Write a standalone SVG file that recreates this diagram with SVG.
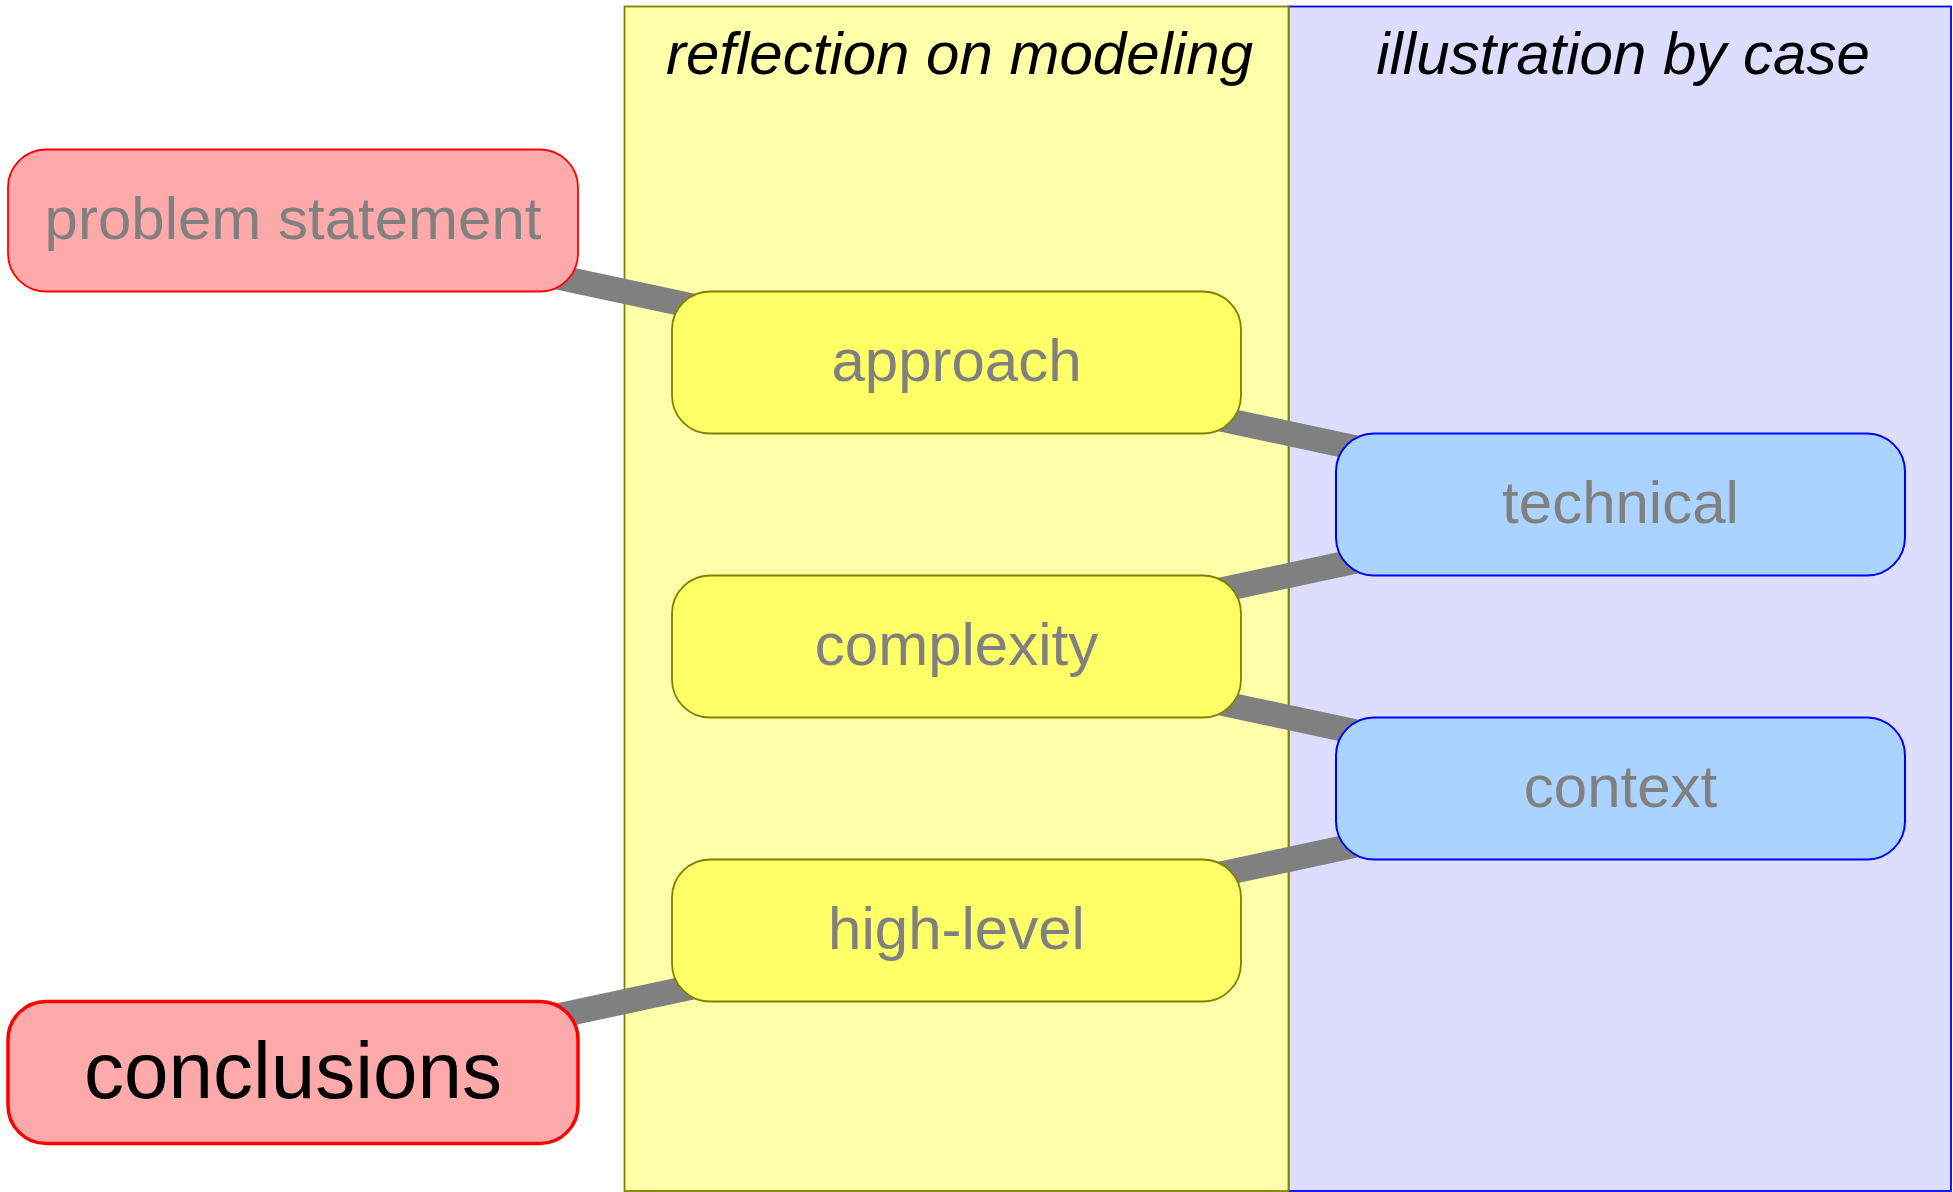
<svg xmlns="http://www.w3.org/2000/svg" width="1953" height="1192" viewBox="0 0 1953 1192">
  <style>
    .lane-case { fill: #ddddff; stroke: #0000ff; stroke-width: 1.8; }
    .lane-model { fill: #ffffaa; stroke: #808000; stroke-width: 1.8; }
    .lane-title { font-family: "Liberation Sans", Arial, sans-serif; font-size: 60px; font-style: italic; fill: #000000; text-anchor: middle; }
    .edge { stroke: #808080; stroke-width: 25; stroke-linecap: butt; fill: none; }
    .n-red { fill: #ffaaaa; stroke: #ff0000; stroke-width: 1.8; }
    .n-red-strong { fill: #ffaaaa; stroke: #ff0000; stroke-width: 3.5; }
    .n-yellow { fill: #ffff66; stroke: #808000; stroke-width: 1.8; }
    .n-blue { fill: #aad4ff; stroke: #0000ff; stroke-width: 2; }
    .label { font-family: "Liberation Sans", Arial, sans-serif; font-size: 60px; fill: #808080; text-anchor: middle; }
    .label-strong { font-family: "Liberation Sans", Arial, sans-serif; font-size: 80px; fill: #000000; text-anchor: middle; }
  </style>

  <rect width="1953" height="1192" fill="#ffffff"/>

  <!-- swimlanes -->
  <g id="lane-illustration">
    <rect class="lane-case" x="1288.5" y="6.5" width="662.5" height="1184.5"/>
    <text class="lane-title" x="1623" y="74">illustration by case</text>
  </g>
  <g id="lane-reflection">
    <rect class="lane-model" x="624.5" y="6.5" width="664" height="1184.5"/>
    <text class="lane-title" x="959.5" y="74">reflection on modeling</text>
  </g>

  <!-- connectors, centre to centre, drawn beneath the nodes -->
  <g id="connectors">
    <line class="edge" x1="293" y1="220.5" x2="956.5" y2="362.5"/>
    <line class="edge" x1="956.5" y1="362.5" x2="1620.5" y2="504.5"/>
    <line class="edge" x1="1620.5" y1="504.5" x2="956.5" y2="646.5"/>
    <line class="edge" x1="956.5" y1="646.5" x2="1620.5" y2="788.5"/>
    <line class="edge" x1="1620.5" y1="788.5" x2="956.5" y2="930.5"/>
    <line class="edge" x1="956.5" y1="930.5" x2="293" y2="1072.5"/>
  </g>

  <!-- nodes -->
  <g id="node-problem-statement">
    <rect class="n-red" x="8" y="149.5" width="570" height="142" rx="38" ry="38"/>
    <text class="label" x="293" y="239">problem statement</text>
  </g>
  <g id="node-approach">
    <rect class="n-yellow" x="672" y="291.5" width="569" height="142" rx="38" ry="38"/>
    <text class="label" x="956.5" y="381">approach</text>
  </g>
  <g id="node-technical">
    <rect class="n-blue" x="1336" y="433.5" width="569" height="142" rx="38" ry="38"/>
    <text class="label" x="1620.5" y="523">technical</text>
  </g>
  <g id="node-complexity">
    <rect class="n-yellow" x="672" y="575.5" width="569" height="142" rx="38" ry="38"/>
    <text class="label" x="956.5" y="665">complexity</text>
  </g>
  <g id="node-context">
    <rect class="n-blue" x="1336" y="717.5" width="569" height="142" rx="38" ry="38"/>
    <text class="label" x="1620.5" y="807">context</text>
  </g>
  <g id="node-high-level">
    <rect class="n-yellow" x="672" y="859.5" width="569" height="142" rx="38" ry="38"/>
    <text class="label" x="956.5" y="949">high-level</text>
  </g>
  <g id="node-conclusions">
    <rect class="n-red-strong" x="8" y="1001.5" width="570" height="142" rx="38" ry="38"/>
    <text class="label-strong" x="293" y="1098">conclusions</text>
  </g>
</svg>
